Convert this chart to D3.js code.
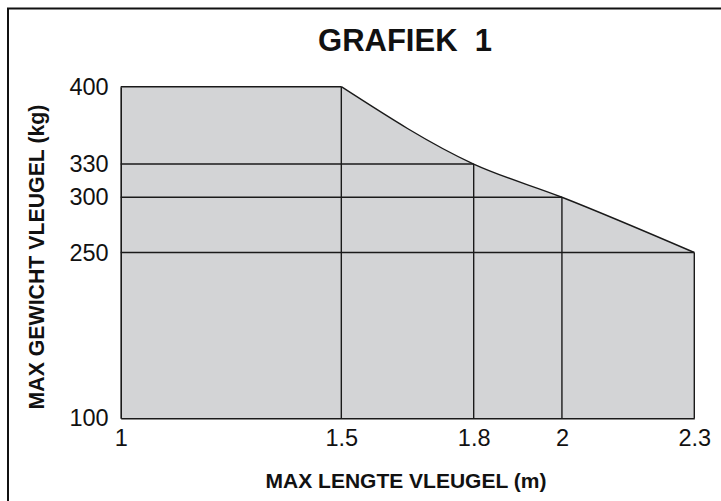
<!DOCTYPE html>
<html>
<head>
<meta charset="utf-8">
<script src="https://cdn.jsdelivr.net/npm/d3@7"></script>
<style>
  body { margin: 0; background: #fff; }
  svg text { font-family: "Liberation Sans", Arial, Helvetica, sans-serif; fill: #111; }
</style>
</head>
<body>
<div id="chart"></div>
<script>
// max wing length (m) vs max wing weight (kg)
var lengths = [1.5, 1.8, 2, 2.3];
var weights = [400, 330, 300, 250];
var xTicks = [1, 1.5, 1.8, 2, 2.3];
var yTicks = [100, 250, 300, 330, 400];
var xMin = 1, yMin = 100, yMax = 400;

var width = 721, height = 501;
var svg = d3.select("#chart").append("svg")
  .attr("width", width)
  .attr("height", height);

// frame (left + top only)
svg.append("path")
  .attr("d", "M8,501 L8,8.5 L721,8.5")
  .attr("fill", "none")
  .attr("stroke", "#111")
  .attr("stroke-width", 2);

var x = d3.scaleLinear().domain([1, 2.3]).range([120.7, 694.3]);
var y = d3.scaleLinear().domain([100, 400]).range([418.3, 86.7]);

var pts = lengths.map(function(l, i) { return [x(l), y(weights[i])]; });
var curve = d3.line().curve(d3.curveMonotoneX)(pts);

// filled region
var area = "M" + x(xMin) + "," + y(yMin) +
  "L" + x(xMin) + "," + y(yMax) +
  curve.replace(/^M/, "L") +
  "L" + x(lengths[lengths.length - 1]) + "," + y(yMin) + "Z";
svg.append("path")
  .attr("d", area)
  .attr("fill", "#d3d4d6")
  .attr("stroke", "none");

var g = svg.append("g")
  .attr("stroke", "#1a1a1a")
  .attr("stroke-width", 1.4)
  .attr("fill", "none");

// vertical grid lines up to the curve
g.selectAll(".vline")
  .data(lengths)
  .enter().append("line")
  .attr("x1", function(d) { return x(d); })
  .attr("x2", function(d) { return x(d); })
  .attr("y1", y(yMin))
  .attr("y2", function(d, i) { return y(weights[i]); });

// horizontal grid lines up to the curve
g.selectAll(".hline")
  .data(weights)
  .enter().append("line")
  .attr("x1", x(xMin))
  .attr("x2", function(d, i) { return x(lengths[i]); })
  .attr("y1", function(d) { return y(d); })
  .attr("y2", function(d) { return y(d); });

g.append("path").attr("d", curve);

// axes
var xAxis = svg.append("g")
  .attr("transform", "translate(0," + y(yMin) + ")")
  .call(d3.axisBottom(x).tickValues(xTicks).tickSize(0).tickPadding(11)
    .tickFormat(function(d) { return String(d); }));
var yAxis = svg.append("g")
  .attr("transform", "translate(" + x(xMin) + ",0)")
  .call(d3.axisLeft(y).tickValues(yTicks).tickSize(0).tickPadding(12));

[xAxis, yAxis].forEach(function(a) {
  a.select(".domain").attr("stroke", "#1a1a1a").attr("stroke-width", 1.6);
  a.selectAll("text")
    .style("font-size", "23.5px")
    .style("font-family", "\"Liberation Sans\", Arial, sans-serif")
    .attr("fill", "#111");
});

// titles
svg.append("text")
  .attr("x", 405)
  .attr("y", 51)
  .attr("text-anchor", "middle")
  .style("font-size", "31px")
  .style("font-weight", "bold")
  .style("white-space", "pre")
  .text("GRAFIEK  1");

svg.append("text")
  .attr("x", 406)
  .attr("y", 488)
  .attr("text-anchor", "middle")
  .style("font-size", "21px")
  .style("font-weight", "bold")
  .text("MAX LENGTE VLEUGEL (m)");

svg.append("text")
  .attr("transform", "translate(44,257) rotate(-90)")
  .attr("text-anchor", "middle")
  .style("font-size", "21.3px")
  .style("font-weight", "bold")
  .text("MAX GEWICHT VLEUGEL (kg)");
</script>
</body>
</html>
